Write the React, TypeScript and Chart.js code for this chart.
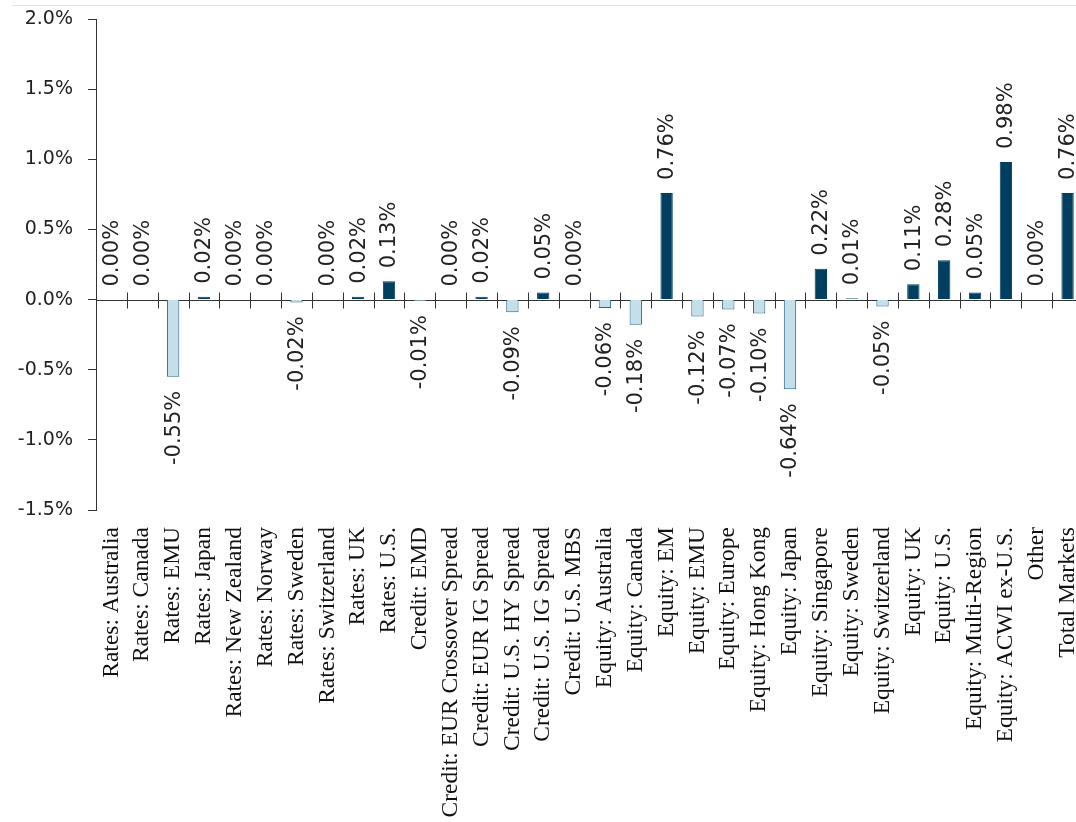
import React, { useEffect, useRef } from "react";
import { Chart, registerables } from "chart.js";

Chart.register(...registerables);

const categories: string[] = [
  "Rates: Australia",
  "Rates: Canada",
  "Rates: EMU",
  "Rates: Japan",
  "Rates: New Zealand",
  "Rates: Norway",
  "Rates: Sweden",
  "Rates: Switzerland",
  "Rates: UK",
  "Rates: U.S.",
  "Credit: EMD",
  "Credit: EUR Crossover Spread",
  "Credit: EUR IG Spread",
  "Credit: U.S. HY Spread",
  "Credit: U.S. IG Spread",
  "Credit: U.S. MBS",
  "Equity: Australia",
  "Equity: Canada",
  "Equity: EM",
  "Equity: EMU",
  "Equity: Europe",
  "Equity: Hong Kong",
  "Equity: Japan",
  "Equity: Singapore",
  "Equity: Sweden",
  "Equity: Switzerland",
  "Equity: UK",
  "Equity: U.S.",
  "Equity: Multi-Region",
  "Equity: ACWI ex-U.S.",
  "Other",
  "Total Markets",
];

const values: number[] = [
  0.0, 0.0, -0.55, 0.02, 0.0, 0.0, -0.02, 0.0, 0.02, 0.13,
  -0.01, 0.0, 0.02, -0.09, 0.05, 0.0,
  -0.06, -0.18, 0.76, -0.12, -0.07, -0.1, -0.64, 0.22, 0.01, -0.05,
  0.11, 0.28, 0.05, 0.98,
  0.0, 0.76,
];

const yMin = -1.5;
const yMax = 2.0;
const yStep = 0.5;

const POS_COLOR = "#003f5f";
const NEG_FILL = "#c4dfea";
const NEG_BORDER = "#2a6688";

const CANVAS_W = 1084;
const CANVAS_H = 822;

const zeroLinePlugin = {
  id: "zeroLine",
  beforeDatasetsDraw(chart: any) {
    const { ctx, chartArea, scales } = chart;
    const x = scales.x;
    const y = scales.y;
    const y0 = Math.round(y.getPixelForValue(0)) + 0.5;
    ctx.save();
    ctx.strokeStyle = "#333333";
    ctx.lineWidth = 1;
    ctx.beginPath();
    ctx.moveTo(chartArea.left, y0);
    ctx.lineTo(chartArea.right, y0);
    const n = categories.length;
    const half = (x.getPixelForValue(1) - x.getPixelForValue(0)) / 2;
    for (let i = 1; i < n; i++) {
      const bx = Math.round(x.getPixelForValue(i) - half) + 0.5;
      ctx.moveTo(bx, y0 - 8);
      ctx.lineTo(bx, y0 + 8);
    }
    ctx.stroke();
    ctx.restore();
  },
};

const dataLabelPlugin = {
  id: "dataLabels",
  afterDatasetsDraw(chart: any) {
    const { ctx } = chart;
    const meta = chart.getDatasetMeta(0);
    ctx.save();
    ctx.font = '21px "DejaVu Sans", sans-serif';
    ctx.fillStyle = "#222222";
    ctx.textBaseline = "middle";
    meta.data.forEach((el: any, i: number) => {
      const v = values[i];
      const txt = v.toFixed(2) + "%";
      ctx.save();
      if (v >= 0) {
        const top = Math.min(el.y, el.base);
        ctx.translate(el.x, top - 13);
        ctx.rotate(-Math.PI / 2);
        ctx.textAlign = "left";
      } else {
        const bottom = Math.max(el.y, el.base);
        ctx.translate(el.x, bottom + 14);
        ctx.rotate(-Math.PI / 2);
        ctx.textAlign = "right";
      }
      ctx.fillText(txt, 0, 1);
      ctx.restore();
    });
    ctx.restore();
  },
};

export default function App() {
  const canvasRef = useRef<HTMLCanvasElement | null>(null);

  useEffect(() => {
    if (!canvasRef.current) return;
    const chart = new Chart(canvasRef.current, {
      type: "bar",
      data: {
        labels: categories,
        datasets: [
          {
            data: values,
            backgroundColor: values.map((v) => (v >= 0 ? POS_COLOR : NEG_FILL)),
            borderColor: values.map((v) => (v >= 0 ? POS_COLOR : NEG_BORDER)),
            borderWidth: 1,
            barPercentage: 0.4,
            categoryPercentage: 1,
          },
        ],
      },
      options: {
        animation: false,
        responsive: false,
        maintainAspectRatio: false,
        devicePixelRatio: 1,
        layout: { padding: { top: 19, right: 1, bottom: 0, left: 0 } },
        plugins: {
          legend: { display: false },
          tooltip: { enabled: false },
          title: { display: false },
        },
        scales: {
          x: {
            grid: { display: false },
            border: { display: false },
            ticks: {
              autoSkip: false,
              minRotation: 90,
              maxRotation: 90,
              padding: 9,
              color: "#111111",
              font: { family: '"Liberation Serif", "Times New Roman", serif', size: 23.5 },
            },
            afterFit(scale: any) {
              scale.height = 312;
              scale.paddingLeft = 0;
              scale.paddingRight = 0;
            },
          },
          y: {
            min: yMin,
            max: yMax,
            grid: {
              display: true,
              drawOnChartArea: false,
              drawTicks: true,
              tickLength: 8,
              color: "#333333",
            },
            border: { display: true, color: "#333333", width: 1 },
            ticks: {
              stepSize: yStep,
              padding: 15,
              color: "#222222",
              font: { family: '"DejaVu Sans", sans-serif', size: 19 },
              callback: (v: any) => Number(v).toFixed(1) + "%",
            },
            afterFit(scale: any) {
              scale.width = 96;
              scale.paddingTop = 0;
              scale.paddingBottom = 0;
            },
          },
        },
      },
      plugins: [zeroLinePlugin, dataLabelPlugin],
    });
    return () => chart.destroy();
  }, []);

  return (
    <div
      style={{
        position: "fixed",
        left: 0,
        top: 0,
        width: 1076,
        height: 822,
        overflow: "hidden",
        background: "#ffffff",
      }}
    >
      <div
        style={{
          position: "absolute",
          left: 12,
          right: 0,
          top: 5,
          height: 1,
          background: "#e2e2e2",
        }}
      />
      <canvas
        ref={canvasRef}
        width={CANVAS_W}
        height={CANVAS_H}
        style={{ position: "absolute", left: 0, top: 0, width: CANVAS_W, height: CANVAS_H }}
      />
    </div>
  );
}
